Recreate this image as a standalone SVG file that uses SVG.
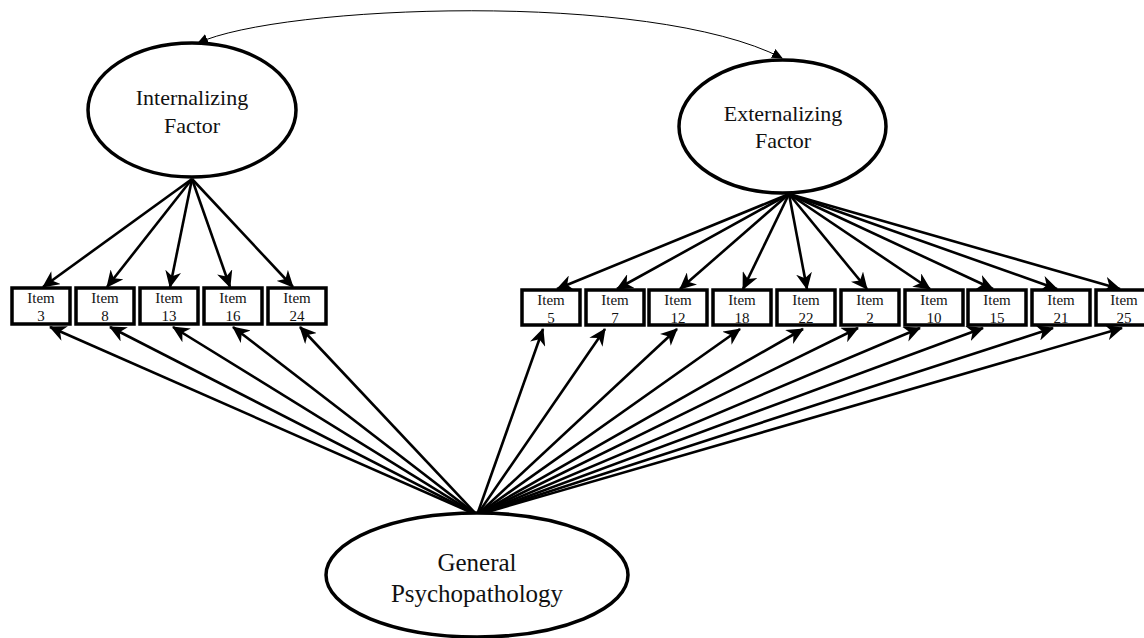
<svg xmlns="http://www.w3.org/2000/svg" width="1144" height="638" viewBox="0 0 1144 638">
<style>
.lat{fill:#fff;stroke:#000;stroke-width:3.5}
.box{fill:#fff;stroke:#000;stroke-width:3.5}
.t{font-family:"Liberation Serif","Times New Roman",serif;fill:#111;text-anchor:middle}
.lt{font-size:22px}
.gt{font-size:25px}
.it{font-size:15px}
.ld{stroke:#000;stroke-width:2.6;fill:none;marker-end:url(#ah)}
.cv{stroke:#000;stroke-width:1;fill:none;marker-start:url(#sh);marker-end:url(#sh)}
</style>
<defs>
<marker id="ah" markerUnits="userSpaceOnUse" viewBox="0 0 17 16" refX="16" refY="8" markerWidth="17" markerHeight="16" orient="auto">
<path d="M0,0 L17,8 L0,16 L5,8 z" fill="#000"/>
</marker>
<marker id="sh" markerUnits="userSpaceOnUse" viewBox="0 0 11 10" refX="10" refY="5" markerWidth="11" markerHeight="10" orient="auto-start-reverse">
<path d="M0,0 L11,5 L0,10 z" fill="#000"/>
</marker>
</defs>
<g id="connectors">
<path class="cv" d="M198 43 C280 5 650 -10 782 58"/>
<line class="ld" x1="192" y1="179" x2="43" y2="287"/>
<line class="ld" x1="192" y1="179" x2="107" y2="287"/>
<line class="ld" x1="192" y1="179" x2="170" y2="287"/>
<line class="ld" x1="192" y1="179" x2="230" y2="287"/>
<line class="ld" x1="192" y1="179" x2="293" y2="287"/>
<line class="ld" x1="789" y1="194" x2="557" y2="289"/>
<line class="ld" x1="789" y1="194" x2="617" y2="289"/>
<line class="ld" x1="789" y1="194" x2="680" y2="289"/>
<line class="ld" x1="789" y1="194" x2="743" y2="289"/>
<line class="ld" x1="789" y1="194" x2="807" y2="289"/>
<line class="ld" x1="789" y1="194" x2="867" y2="289"/>
<line class="ld" x1="789" y1="194" x2="930" y2="289"/>
<line class="ld" x1="789" y1="194" x2="993" y2="289"/>
<line class="ld" x1="789" y1="194" x2="1057" y2="289"/>
<line class="ld" x1="789" y1="194" x2="1120" y2="289"/>
<line class="ld" x1="477" y1="515" x2="50" y2="327"/>
<line class="ld" x1="477" y1="515" x2="110" y2="327"/>
<line class="ld" x1="477" y1="515" x2="173" y2="327"/>
<line class="ld" x1="477" y1="515" x2="233" y2="327"/>
<line class="ld" x1="477" y1="515" x2="300" y2="327"/>
<line class="ld" x1="477" y1="515" x2="543" y2="329"/>
<line class="ld" x1="477" y1="515" x2="605" y2="329"/>
<line class="ld" x1="477" y1="515" x2="677" y2="329"/>
<line class="ld" x1="477" y1="515" x2="740" y2="329"/>
<line class="ld" x1="477" y1="515" x2="803" y2="329"/>
<line class="ld" x1="477" y1="515" x2="858" y2="328"/>
<line class="ld" x1="477" y1="515" x2="920" y2="328"/>
<line class="ld" x1="477" y1="515" x2="983" y2="328"/>
<line class="ld" x1="477" y1="515" x2="1053" y2="328"/>
<line class="ld" x1="477" y1="515" x2="1122" y2="328"/>
</g>
<g id="internalizing">
<ellipse class="lat" cx="192" cy="110" rx="104" ry="67"/>
<text class="t lt" x="192" y="105">Internalizing</text>
<text class="t lt" x="192" y="133">Factor</text>
</g>
<g id="externalizing">
<ellipse class="lat" cx="782.5" cy="126.5" rx="103.5" ry="66.5"/>
<text class="t lt" x="783" y="121">Externalizing</text>
<text class="t lt" x="783" y="148">Factor</text>
</g>
<g id="general">
<ellipse class="lat" cx="477" cy="575" rx="151" ry="62"/>
<text class="t gt" x="477" y="571">General</text>
<text class="t gt" x="477" y="602">Psychopathology</text>
</g>
<g id="item3"><rect class="box" x="12" y="288" width="58" height="36"/><text class="t it" x="41" y="303">Item</text><text class="t it" x="41" y="321">3</text></g>
<g id="item8"><rect class="box" x="76" y="288" width="58" height="36"/><text class="t it" x="105" y="303">Item</text><text class="t it" x="105" y="321">8</text></g>
<g id="item13"><rect class="box" x="140" y="288" width="58" height="36"/><text class="t it" x="169" y="303">Item</text><text class="t it" x="169" y="321">13</text></g>
<g id="item16"><rect class="box" x="204" y="288" width="58" height="36"/><text class="t it" x="233" y="303">Item</text><text class="t it" x="233" y="321">16</text></g>
<g id="item24"><rect class="box" x="268" y="288" width="58" height="36"/><text class="t it" x="297" y="303">Item</text><text class="t it" x="297" y="321">24</text></g>
<g id="item5"><rect class="box" x="522" y="290" width="58" height="35"/><text class="t it" x="551" y="305">Item</text><text class="t it" x="551" y="323">5</text></g>
<g id="item7"><rect class="box" x="586" y="290" width="58" height="35"/><text class="t it" x="615" y="305">Item</text><text class="t it" x="615" y="323">7</text></g>
<g id="item12"><rect class="box" x="649" y="290" width="58" height="35"/><text class="t it" x="678" y="305">Item</text><text class="t it" x="678" y="323">12</text></g>
<g id="item18"><rect class="box" x="713" y="290" width="58" height="35"/><text class="t it" x="742" y="305">Item</text><text class="t it" x="742" y="323">18</text></g>
<g id="item22"><rect class="box" x="777" y="290" width="58" height="35"/><text class="t it" x="806" y="305">Item</text><text class="t it" x="806" y="323">22</text></g>
<g id="item2"><rect class="box" x="841" y="290" width="58" height="35"/><text class="t it" x="870" y="305">Item</text><text class="t it" x="870" y="323">2</text></g>
<g id="item10"><rect class="box" x="905" y="290" width="58" height="35"/><text class="t it" x="934" y="305">Item</text><text class="t it" x="934" y="323">10</text></g>
<g id="item15"><rect class="box" x="968" y="290" width="58" height="35"/><text class="t it" x="997" y="305">Item</text><text class="t it" x="997" y="323">15</text></g>
<g id="item21"><rect class="box" x="1032" y="290" width="58" height="35"/><text class="t it" x="1061" y="305">Item</text><text class="t it" x="1061" y="323">21</text></g>
<g id="item25"><rect class="box" x="1096" y="290" width="58" height="35"/><text class="t it" x="1124" y="305">Item</text><text class="t it" x="1124" y="323">25</text></g>
</svg>
